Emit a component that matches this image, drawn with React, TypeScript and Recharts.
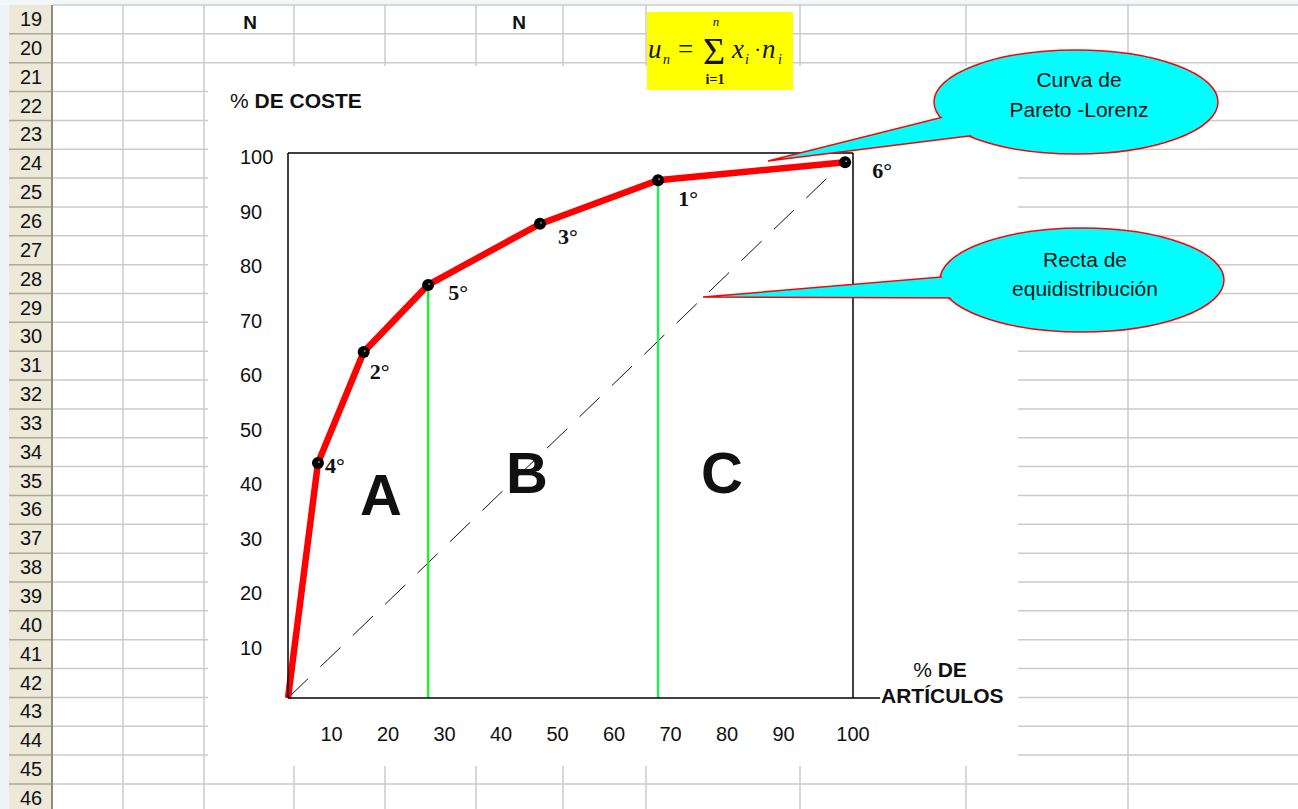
import React from 'react';
import { ComposedChart, Line, XAxis, YAxis, ReferenceLine, LabelList } from 'recharts';

// ---- data ----
const pctArticulos = [0, 5.3, 13.4, 24.8, 44.6, 65.5, 98.6];
const pctCoste = [0, 43.1, 63.5, 75.8, 87.0, 95.0, 98.3];
const ordenArticulo = ['', '4°', '2°', '5°', '3°', '1°', '6°'];
const yTicks = [10, 20, 30, 40, 50, 60, 70, 80, 90, 100];
const xTicks = [10, 20, 30, 40, 50, 60, 70, 80, 90, 100];
const zonas = ['A', 'B', 'C'];
const limiteAB = 3; // index of point 5°
const limiteBC = 5; // index of point 1°
const filas = ['19', '20', '21', '22', '23', '24', '25', '26', '27', '28', '29', '30', '31', '32', '33', '34', '35', '36', '37', '38', '39', '40', '41', '42', '43', '44', '45', '46'];
const cabecerasN = ['N', 'N'];
const textoCurva = ['Curva de', 'Pareto -Lorenz'];
const textoRecta = ['Recta de', 'equidistribución'];

const data = pctArticulos.map((x, i) => ({ x, y: pctCoste[i], label: ordenArticulo[i] }));

// ---- layout / style constants ----
const W = 1298;
const H = 809;
const ROW_TOP = 5;
const ROW_H = 28.85;
const COL_LINES = [123, 204, 294, 385, 476, 563, 646, 800, 966, 1128];
const N_X = [250, 519];
const LABEL_OFFSETS: [number, number][] = [[0, 0], [17, 2], [16, 20], [30, 8], [28, 13], [30, 18], [37, 8]];
const ZONE_POS: [number, number][] = [[381, 515], [527, 493], [722, 493]];
const SANS = '"Liberation Sans", Arial, sans-serif';
const SERIF = '"Liberation Serif", "Times New Roman", serif';

const YTick = (props: any) => {
  const { y, payload } = props;
  return (
    <text x={240} y={y + 11} textAnchor="start" fontFamily={SANS} fontSize={20} fill="#111">
      {payload.value}
    </text>
  );
};

const XTick = (props: any) => {
  const { x, payload } = props;
  const dx = payload.value === 100 ? 0 : -13;
  return (
    <text x={x + dx} y={741} textAnchor="middle" fontFamily={SANS} fontSize={20} fill="#111">
      {payload.value}
    </text>
  );
};

const Marker = (props: any) => {
  const { cx, cy, index, payload } = props;
  if (!payload || !payload.label) return <g key={`m-${index}`} />;
  return (
    <g key={`m-${index}`}>
      <circle cx={cx} cy={cy} r={6} fill="#000" />
      <circle cx={cx + 1} cy={cy - 1} r={1} fill="#888" />
    </g>
  );
};

const PointLabel = (props: any) => {
  const { x, y, value, index } = props;
  if (!value) return null;
  const off = LABEL_OFFSETS[index] || [28, 10];
  return (
    <text
      x={x + off[0]}
      y={y + off[1]}
      textAnchor="middle"
      dominantBaseline="central"
      fontFamily={SERIF}
      fontWeight="bold"
      fontSize={22}
      fill="#111"
    >
      {value}
    </text>
  );
};

const Callout = ({ cx, cy, rx, ry, tail, lines, baselines }: any) => (
  <g>
    <ellipse cx={cx} cy={cy} rx={rx} ry={ry} fill="#00ffff" stroke="#ff0000" strokeWidth={1.5} />
    <polygon points={tail.map((p: number[]) => p.join(',')).join(' ')} fill="#00ffff" stroke="#ff0000" strokeWidth={1.5} />
    <ellipse cx={cx} cy={cy} rx={rx - 1.5} ry={ry - 1.5} fill="#00ffff" />
    {lines.map((t: string, i: number) => (
      <text key={i} x={cx + 3} y={baselines[i]} textAnchor="middle" fontFamily={SANS} fontSize={21} fill="#111">
        {t}
      </text>
    ))}
  </g>
);

const Background = () => (
  <svg width={W} height={H} style={{ position: 'absolute', left: 0, top: 0 }}>
    <rect x={0} y={0} width={W} height={H} fill="#ffffff" />
    <rect x={0} y={0} width={9} height={H} fill="#eef3fa" />
    <rect x={0} y={0} width={W} height={ROW_TOP} fill="#f3f7fc" />
    {/* row header */}
    <rect x={9} y={ROW_TOP} width={43} height={H - ROW_TOP} fill="#ece9d8" />
    {filas.map((f, i) => (
      <g key={f}>
        <line x1={9} x2={52} y1={ROW_TOP + (i + 1) * ROW_H} y2={ROW_TOP + (i + 1) * ROW_H} stroke="#aca899" strokeWidth={1.5} />
        <text x={31} y={ROW_TOP + i * ROW_H + 21} textAnchor="middle" fontFamily={SANS} fontSize={20} fill="#111">
          {f}
        </text>
      </g>
    ))}
    <line x1={52} x2={52} y1={ROW_TOP} y2={H} stroke="#8f8c7c" strokeWidth={2} />
    {/* grid */}
    {filas.map((f, i) => (
      <line key={`h${f}`} x1={53} x2={W} y1={ROW_TOP + i * ROW_H} y2={ROW_TOP + i * ROW_H} stroke="#cbcbcb" strokeWidth={1.5} />
    ))}
    {COL_LINES.map((x) => (
      <line key={`v${x}`} x1={x} x2={x} y1={ROW_TOP} y2={H} stroke="#cbcbcb" strokeWidth={1.5} />
    ))}
    {cabecerasN.map((n, i) => (
      <text key={i} x={N_X[i]} y={29} textAnchor="middle" fontFamily={SANS} fontWeight="bold" fontSize={19} fill="#111">
        {n}
      </text>
    ))}
    {/* chart object area */}
    <rect x={208} y={66} width={810} height={700} fill="#ffffff" />
    {/* formula */}
    <rect x={647} y={12} width={146} height={78} fill="#ffff00" />
    <g fontFamily={SERIF} fill="#111">
      <text x={648} y={58} style={{ fontSize: 27, fontStyle: 'italic' }}>u</text>
      <text x={663} y={64} style={{ fontSize: 14, fontStyle: 'italic' }}>n</text>
      <text x={678} y={58} style={{ fontSize: 27 }}>=</text>
      <text x={714} y={64} textAnchor="middle" style={{ fontSize: 38 }}>Σ</text>
      <text x={716} y={26} textAnchor="middle" style={{ fontSize: 13, fontStyle: 'italic' }}>n</text>
      <text x={715} y={84} textAnchor="middle" style={{ fontSize: 14, fontWeight: 'bold' }}>i=1</text>
      <text x={732} y={58} style={{ fontSize: 27, fontStyle: 'italic' }}>x</text>
      <text x={745} y={64} style={{ fontSize: 14, fontStyle: 'italic' }}>i</text>
      <text x={754} y={57} style={{ fontSize: 22 }}>·</text>
      <text x={762} y={58} style={{ fontSize: 27, fontStyle: 'italic' }}>n</text>
      <text x={778} y={64} style={{ fontSize: 14, fontStyle: 'italic' }}>i</text>
    </g>
  </svg>
);

const Overlay = () => (
  <svg width={W} height={H} style={{ position: 'absolute', left: 0, top: 0, pointerEvents: 'none' }}>
    <text x={230} y={108} fontFamily={SANS} fontSize={21} fill="#111">
      <tspan fontWeight="normal">%</tspan>
      <tspan fontWeight="bold">{'  DE COSTE'}</tspan>
    </text>
    <text x={940} y={677} textAnchor="middle" fontFamily={SANS} fontSize={21} fill="#111">
      <tspan fontWeight="normal">%</tspan>
      <tspan fontWeight="bold">{' DE'}</tspan>
    </text>
    <text x={881} y={703} fontFamily={SANS} fontWeight="bold" fontSize={21} fill="#111">
      ARTÍCULOS
    </text>
    {zonas.map((z, i) => (
      <text key={z} x={ZONE_POS[i][0]} y={ZONE_POS[i][1]} textAnchor="middle" fontFamily={SANS} fontWeight="bold" fontSize={58} fill="#111">
        {z}
      </text>
    ))}
    <Callout
      cx={1076}
      cy={102}
      rx={142}
      ry={52}
      tail={[[768, 161], [955, 114], [985, 134]]}
      lines={textoCurva}
      baselines={[87, 117]}
    />
    <Callout
      cx={1082}
      cy={280}
      rx={142}
      ry={52}
      tail={[[703, 297], [965, 275], [965, 298]]}
      lines={textoRecta}
      baselines={[267, 296]}
    />
  </svg>
);

export default function App() {
  return (
    <div style={{ position: 'absolute', left: 0, top: 0, width: W, height: H, overflow: 'hidden', background: '#fff' }}>
      <Background />
      <div style={{ position: 'absolute', left: 0, top: 0 }}>
        <ComposedChart width={W} height={H} data={data} margin={{ top: 153, right: 445, bottom: 71, left: 240 }}>
          <XAxis
            type="number"
            dataKey="x"
            domain={[0, 100]}
            ticks={xTicks}
            interval={0}
            height={40}
            axisLine={{ stroke: '#000', strokeWidth: 1.5 }}
            tickLine={false}
            tick={<XTick />}
          />
          <YAxis
            type="number"
            domain={[0, 100]}
            ticks={yTicks}
            interval={0}
            width={48}
            axisLine={{ stroke: '#000', strokeWidth: 1.5 }}
            tickLine={false}
            tick={<YTick />}
          />
          <ReferenceLine y={100} stroke="#000" strokeWidth={1.5} />
          <ReferenceLine x={100} stroke="#000" strokeWidth={1.5} />
          <ReferenceLine
            segment={[{ x: 100, y: 0 }, { x: 104.8, y: 0 }]}
            stroke="#000"
            strokeWidth={1.5}
            ifOverflow="visible"
          />
          <ReferenceLine
            segment={[{ x: 0, y: 0 }, { x: 96, y: 96 }]}
            stroke="#111"
            strokeWidth={1}
            strokeDasharray="28 17"
          />
          <ReferenceLine
            segment={[{ x: pctArticulos[limiteAB], y: 0 }, { x: pctArticulos[limiteAB], y: pctCoste[limiteAB] }]}
            stroke="#22ee33"
            strokeWidth={2.5}
          />
          <ReferenceLine
            segment={[{ x: pctArticulos[limiteBC], y: 0 }, { x: pctArticulos[limiteBC], y: pctCoste[limiteBC] }]}
            stroke="#22ee55"
            strokeWidth={2.5}
          />
          <Line
            type="linear"
            dataKey="y"
            stroke="#ff0000"
            strokeWidth={6.5}
            dot={Marker}
            activeDot={false}
            isAnimationActive={false}
          >
            <LabelList dataKey="label" content={PointLabel} />
          </Line>
        </ComposedChart>
      </div>
      <Overlay />
    </div>
  );
}
